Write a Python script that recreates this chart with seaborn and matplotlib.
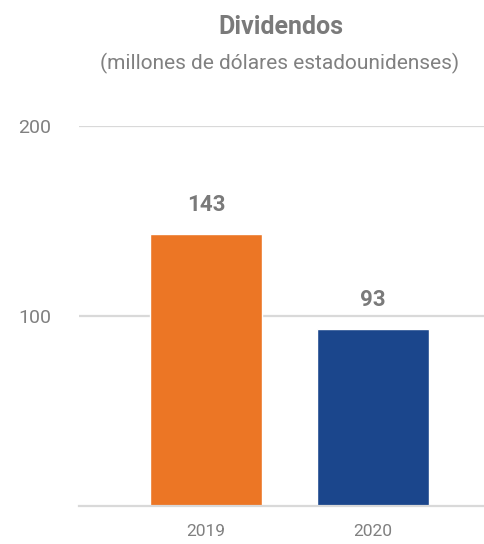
import matplotlib
matplotlib.use("Agg")
import matplotlib.pyplot as plt
import seaborn as sns
import pandas as pd

years = ["2019", "2020"]
values = [143, 93]
colors = ["#EC7625", "#1B468C"]
yticks = [100, 200]
title = "Dividendos"
subtitle = "(millones de dólares estadounidenses)"

sns.set_theme(style="white")
plt.rcParams["font.family"] = ["Roboto", "DejaVu Sans"]

df = pd.DataFrame({"year": years, "value": values})

fig = plt.figure(figsize=(4.84, 5.44), dpi=100)
ax = fig.add_axes([79 / 484, (544 - 506) / 544, 1 - 79 / 484, (506 - 126) / 544])

sns.barplot(data=df, x="year", y="value", hue="year", palette=colors,
            width=0.67, legend=False, ax=ax, saturation=1)

ax.set_ylim(0, 200)
ax.set_xlim(-0.76, 1.665)
ax.set_yticks(yticks)
ax.set_yticklabels([str(t) for t in yticks])
ax.yaxis.grid(True, color="#D9D9D9", linewidth=1.6)
ax.set_axisbelow(True)
for s in ["top", "right", "left"]:
    ax.spines[s].set_visible(False)
ax.spines["bottom"].set_color("#D9D9D9")
ax.spines["bottom"].set_linewidth(1.6)
ax.tick_params(axis="y", length=0, pad=20, labelsize=14, labelcolor="#808080")
ax.tick_params(axis="x", length=0, pad=13, labelsize=12.5, labelcolor="#808080")
ax.set_xlabel("")
ax.set_ylabel("")

for i, v in enumerate(values):
    ax.annotate(str(v), (i, v), xytext=(0, 13), textcoords="offset points",
                ha="center", va="bottom", fontsize=16, fontweight="bold",
                color="#7A7A7A")

fig.text(281 / 484, 1 - 27 / 544, title, ha="center", va="center",
         fontsize=18, fontweight="bold", color="#7A7A7A")
fig.text(280 / 484, 1 - 63 / 544, subtitle, ha="center", va="center",
         fontsize=15, color="#808080")

fig.savefig("out.png", dpi=100)
